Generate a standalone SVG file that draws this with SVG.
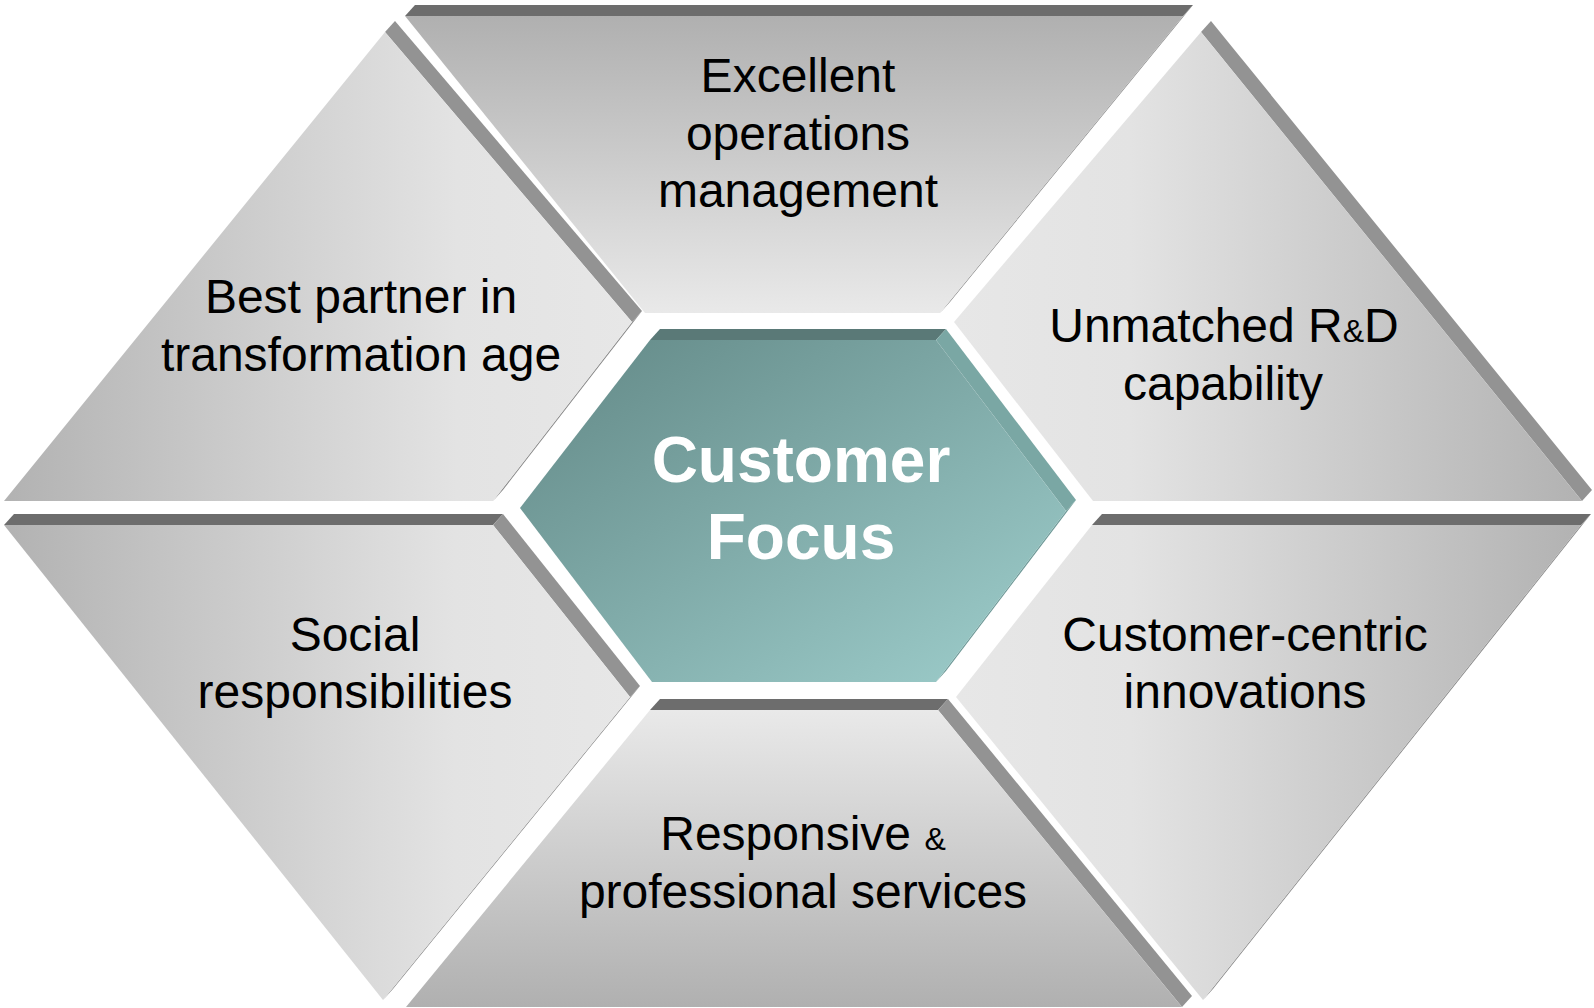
<svg xmlns="http://www.w3.org/2000/svg" width="1594" height="1008" viewBox="0 0 1594 1008">
  <defs>
    <linearGradient id="gL2R" x1="0" y1="0" x2="1" y2="0">
      <stop offset="0" stop-color="#b2b2b2"/>
      <stop offset="0.72" stop-color="#e3e3e3"/>
      <stop offset="1" stop-color="#e7e7e7"/>
    </linearGradient>
    <linearGradient id="gR2L" x1="1" y1="0" x2="0" y2="0">
      <stop offset="0" stop-color="#b2b2b2"/>
      <stop offset="0.72" stop-color="#e3e3e3"/>
      <stop offset="1" stop-color="#e7e7e7"/>
    </linearGradient>
    <linearGradient id="gT2B" x1="0" y1="0" x2="0" y2="1">
      <stop offset="0" stop-color="#b0b0b0"/>
      <stop offset="1" stop-color="#e9e9e9"/>
    </linearGradient>
    <linearGradient id="gB2T" x1="0" y1="1" x2="0" y2="0">
      <stop offset="0" stop-color="#b0b0b0"/>
      <stop offset="1" stop-color="#e9e9e9"/>
    </linearGradient>
    <linearGradient id="gHex" x1="0" y1="0" x2="1" y2="1">
      <stop offset="0" stop-color="#628886"/>
      <stop offset="1" stop-color="#9fcfcd"/>
    </linearGradient>
  </defs>
  <style>
    .topStrip { fill: #6d6d6d; }
    .sideStrip { fill: #939393; }
    .thin { fill: #8a8a8a; }
    .hexTop { fill: #5a7977; }
    .hexSide { fill: #7aa7a4; }
    .hexThin { fill: #6f9a98; }
    .lbl { font-family: "Liberation Sans", Arial, sans-serif; font-size: 48px; fill: #000; text-anchor: middle; }
    .amp { font-size: 32px; }
    .center { font-family: "Liberation Sans", Arial, sans-serif; font-size: 64px; font-weight: bold; fill: #fff; text-anchor: middle; }
  </style>
  <rect width="1594" height="1008" fill="#ffffff"/>

  <g id="node-top">
    <polygon class="topStrip" points="405,16 1183,16 1193,5 415,5"/>
    <polygon class="thin" points="1183,16 1193,5 950,302 940,313"/>
    <polygon fill="url(#gT2B)" points="405,16 1183,16 940,313 645,313"/>
    <text class="lbl" x="798" y="92">Excellent</text>
    <text class="lbl" x="798" y="149.5">operations</text>
    <text class="lbl" x="798" y="207">management</text>
  </g>

  <g id="node-upper-left">
    <polygon class="sideStrip" points="385,32 395,21 642,311 632,322"/>
    <polygon class="thin" points="632,322 642,311 503,490 493,501"/>
    <polygon fill="url(#gL2R)" points="385,32 632,322 493,501 4,501"/>
    <text class="lbl" x="361" y="313">Best partner in</text>
    <text class="lbl" x="361" y="371">transformation age</text>
  </g>

  <g id="node-upper-right">
    <polygon class="sideStrip" points="1201,32 1211,21 1592,490 1582,501"/>
    <polygon fill="url(#gR2L)" points="1201,32 954,322 1093,501 1582,501"/>
    <text class="lbl" x="1224" y="342">Unmatched R<tspan class="amp">&amp;</tspan>D</text>
    <text class="lbl" x="1223" y="399.5">capability</text>
  </g>

  <g id="node-lower-left">
    <polygon class="topStrip" points="4,525 493,525 503,514 14,514"/>
    <polygon class="sideStrip" points="493,525 503,514 640,686 630,697"/>
    <polygon class="thin" points="630,697 640,686 393,989 383,1000"/>
    <polygon fill="url(#gL2R)" points="4,525 493,525 630,697 383,1000"/>
    <text class="lbl" x="355" y="650.5">Social</text>
    <text class="lbl" x="355" y="707.5">responsibilities</text>
  </g>

  <g id="node-lower-right">
    <polygon class="topStrip" points="1092,525 1581,525 1591,514 1102,514"/>
    <polygon class="thin" points="1581,525 1591,514 1213,989 1203,1000"/>
    <polygon fill="url(#gR2L)" points="1092,525 1581,525 1203,1000 956,697"/>
    <text class="lbl" x="1245" y="650.5">Customer-centric</text>
    <text class="lbl" x="1245" y="707.5">innovations</text>
  </g>

  <g id="node-bottom">
    <polygon class="topStrip" points="650,710 938,710 948,699 660,699"/>
    <polygon class="sideStrip" points="938,710 948,699 1192,996 1182,1007"/>
    <polygon fill="url(#gB2T)" points="650,710 938,710 1182,1007 406,1007"/>
    <text class="lbl" x="803" y="850">Responsive <tspan class="amp">&amp;</tspan></text>
    <text class="lbl" x="803" y="907.5">professional services</text>
  </g>

  <g id="node-center">
    <polygon class="hexTop" points="650,340 936,340 946,329 660,329"/>
    <polygon class="hexSide" points="936,340 946,329 1076,500 1066,511"/>
    <polygon class="hexThin" points="1066,511 1076,500 946,671 936,682"/>
    <polygon fill="url(#gHex)" points="650,340 936,340 1066,511 936,682 652,682 520,508"/>
    <text class="center" x="801" y="482">Customer</text>
    <text class="center" x="801" y="559">Focus</text>
  </g>
</svg>
